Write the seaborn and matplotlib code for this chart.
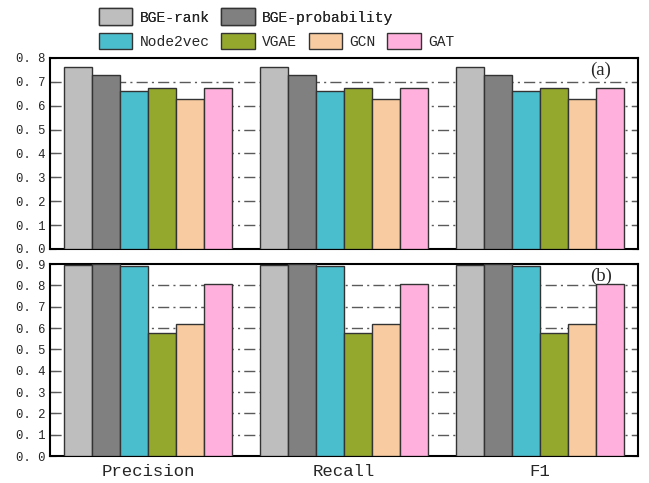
import pandas as pd
import seaborn as sns
import matplotlib.pyplot as plt
from matplotlib.patches import Patch

# Scores (same for every metric)
metrics = ['Precision', 'Recall', 'F1']
methods = ['BGE-rank', 'BGE-probability', 'Node2vec', 'VGAE', 'GCN', 'GAT']
scores_a = [0.764, 0.728, 0.661, 0.675, 0.630, 0.673]
scores_b = [0.895, 0.899, 0.893, 0.577, 0.620, 0.805]
colors = ['#BEBEBE', '#808080', '#4BBECE', '#93A82C', '#F9CBA0', '#FFB0DC']


def to_long(scores):
    rows = []
    for m in metrics:
        for name, v in zip(methods, scores):
            rows.append({'metric': m, 'method': name, 'score': v})
    return pd.DataFrame(rows)


sns.set_style('white')
plt.rcParams['font.family'] = ['Liberation Mono', 'DejaVu Sans Mono']

fig = plt.figure(figsize=(6.49, 4.83), dpi=100)
ax1 = fig.add_axes([0.077, 0.4845, 0.906, 0.3955])
ax2 = fig.add_axes([0.077, 0.0559, 0.906, 0.3975])

for ax, scores, top, tag in [(ax1, scores_a, 0.8, '(a)'), (ax2, scores_b, 0.9, '(b)')]:
    df = to_long(scores)
    sns.barplot(data=df, x='metric', y='score', hue='method', hue_order=methods,
                palette=colors, width=0.86, edgecolor='#333333', linewidth=1,
                saturation=1, legend=False, ax=ax, zorder=3)
    ax.set_ylim(0, top)
    ticks = [round(0.1 * i, 1) for i in range(int(round(top * 10)) + 1)]
    ax.set_yticks(ticks)
    ax.set_yticklabels([f'{t:.1f}'.replace('.', '. ') for t in ticks], fontsize=8.8)
    for t in ticks[1:-1]:
        ax.axhline(t, color='#5a5a5a', linestyle=(0, (8, 3, 1.5, 3)), linewidth=1, zorder=1)
    ax.set_xlabel('')
    ax.set_ylabel('')
    ax.tick_params(axis='y', direction='in', length=4, right=True, left=True, pad=3)
    ax.tick_params(axis='x', length=0, pad=6)
    for s in ax.spines.values():
        s.set_linewidth(1.5)
        s.set_color('black')
    ax.text(0.937, 0.935, tag, transform=ax.transAxes, ha='center', va='center',
            fontsize=13.5, family='Liberation Serif')

ax1.set_xticklabels([])
ax2.set_xticklabels(metrics, fontsize=12.5)

handles = [Patch(facecolor=c, edgecolor='#333333', linewidth=1) for c in colors]
leg1 = fig.legend(handles[:2], methods[:2], ncol=2, loc='center left',
                  bbox_to_anchor=(0.152, 0.965), frameon=False, fontsize=10.5,
                  handlelength=2.3, handleheight=1.4, handletextpad=0.5,
                  columnspacing=0.8, borderpad=0, borderaxespad=0)
fig.legend(handles[2:], methods[2:], ncol=4, loc='center left',
           bbox_to_anchor=(0.152, 0.915), frameon=False, fontsize=10.5,
           handlelength=2.3, handleheight=1.4, handletextpad=0.5,
           columnspacing=0.8, borderpad=0, borderaxespad=0)
fig.add_artist(leg1)

fig.savefig('out.png', dpi=100)
